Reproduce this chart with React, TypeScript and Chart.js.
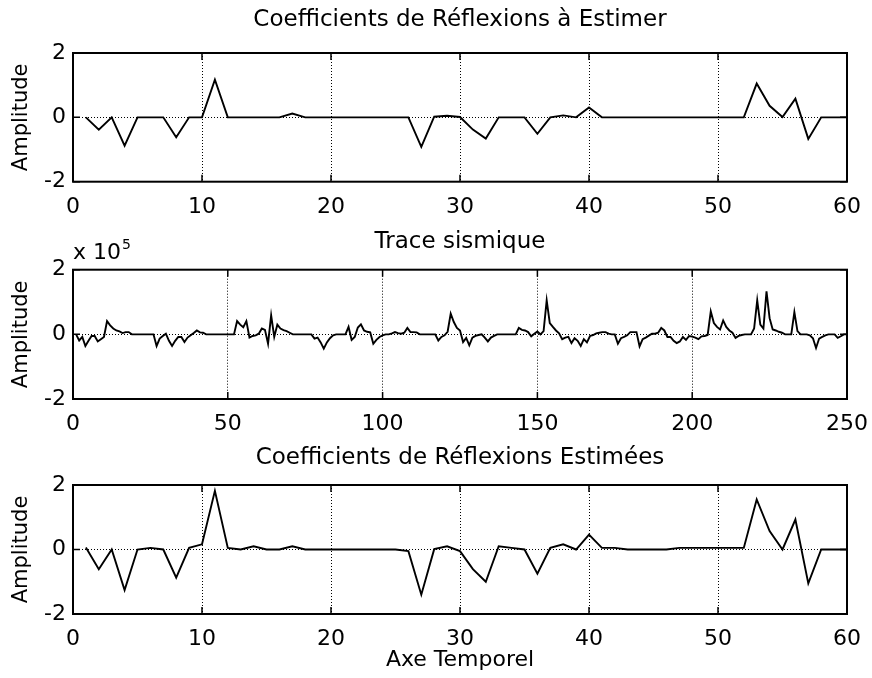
import React, { useEffect, useRef } from "react";
import { Chart, registerables } from "chart.js";

Chart.register(...registerables);

const FONT = "'DejaVu Sans', sans-serif";

// ---------- data ----------
const titleTop = "Coefficients de Réflexions à Estimer";
const titleMid = "Trace sismique";
const titleBottom = "Coefficients de Réflexions Estimées";
const yLabel = "Amplitude";
const xLabelBottom = "Axe Temporel";

const coefIndex = [
  1, 2, 3, 4, 5, 6, 7, 8, 9, 10, 11, 12, 13, 14, 15, 16, 17, 18, 19, 20,
  21, 22, 23, 24, 25, 26, 27, 28, 29, 30, 31, 32, 33, 34, 35, 36, 37, 38, 39, 40,
  41, 42, 43, 44, 45, 46, 47, 48, 49, 50, 51, 52, 53, 54, 55, 56, 57, 58, 59, 60,
];

const coefTrue = [
  0, -0.38, 0, -0.88, 0, 0, 0, -0.62, 0, 0,
  1.17, 0, 0, 0, 0, 0, 0.12, 0, 0, 0,
  0, 0, 0, 0, 0, 0, -0.92, 0.02, 0.05, 0.01,
  -0.38, -0.66, 0, 0, 0, -0.51, 0, 0.06, 0, 0.31,
  0, 0, 0, 0, 0, 0, 0, 0, 0, 0,
  0, 0, 1.05, 0.36, 0.01, 0.58, -0.67, 0, 0, 0,
];

const coefEstimated = [
  0.06, -0.61, 0, -1.26, 0, 0.05, 0, -0.87, 0.05, 0.16,
  1.82, 0.05, 0, 0.1, 0, 0, 0.1, 0, 0, 0,
  0, 0, 0, 0, 0, -0.05, -1.4, 0.01, 0.1, -0.05,
  -0.61, -1.0, 0.1, 0.05, 0, -0.75, 0.05, 0.16, 0, 0.46,
  0.05, 0.05, 0, 0, 0, 0, 0.05, 0.05, 0.05, 0.05,
  0.05, 0.05, 1.55, 0.57, 0, 0.93, -1.05, 0, 0, 0,
];

// seismic trace, in units of 10^5
const traceE5 = [
  0, -0.19, -0.08, -0.36, -0.2, -0.05, -0.05, -0.22, -0.15, -0.08,
  0.41, 0.28, 0.18, 0.12, 0.09, 0.04, 0.07, 0.07, 0, 0,
  0, 0, 0, 0, 0, 0, -0.36, -0.13, -0.05, 0.02,
  -0.2, -0.36, -0.2, -0.08, -0.08, -0.24, -0.1, -0.03, 0.04, 0.12,
  0.06, 0.05, 0, 0, 0, 0, 0, 0, 0, 0,
  0, 0, 0.41, 0.3, 0.22, 0.41, -0.1, -0.05, -0.03, 0.02,
  0.18, 0.14, -0.29, 0.59, -0.08, 0.3, 0.18, 0.13, 0.1, 0.05,
  0, 0, 0, 0, 0, 0, 0, -0.13, -0.1, -0.25,
  -0.44, -0.25, -0.12, -0.03, 0, 0, 0, 0, 0.23, -0.17,
  -0.08, 0.21, 0.31, 0.12, 0.08, 0.06, -0.29, -0.17, -0.08, -0.03,
  0, 0, 0.03, 0.07, 0.04, 0.02, 0.05, 0.2, 0.07, 0.07,
  0.06, 0, 0, 0, 0, 0, 0, -0.19, -0.08, -0.03,
  0.08, 0.64, 0.38, 0.2, 0.12, -0.24, -0.11, -0.34, -0.1, -0.05,
  -0.02, 0, -0.1, -0.22, -0.1, -0.05, 0, 0, 0, 0,
  0, 0, 0, 0.2, 0.14, 0.12, 0.07, -0.06, 0.02, 0.09,
  0, 0.1, 1.05, 0.35, 0.23, 0.12, 0.03, -0.15, -0.1, -0.08,
  -0.27, -0.12, -0.2, -0.36, -0.15, -0.25, -0.05, -0.02, 0.03, 0.05,
  0.07, 0.07, 0.02, 0, 0, -0.29, -0.12, -0.08, -0.03, 0.07,
  0.07, 0.07, -0.37, -0.15, -0.1, -0.04, 0.02, 0.02, 0.05, 0.2,
  0.12, -0.08, -0.08, -0.2, -0.27, -0.22, -0.08, -0.17, -0.05, -0.07,
  -0.1, -0.15, -0.06, -0.05, -0.02, 0.71, 0.35, 0.23, 0.15, 0.43,
  0.23, 0.12, 0.05, -0.11, -0.05, -0.02, 0, 0, 0, 0.18,
  1.05, 0.3, 0.18, 1.33, 0.5, 0.15, 0.12, 0.08, 0.05, 0,
  0, 0, 0.69, 0.1, 0, 0, 0, -0.03, -0.12, -0.42,
  -0.13, -0.08, -0.03, 0, 0, 0, -0.11, -0.06, 0, 0,
];
const traceIndex = traceE5.map((_, i) => i + 1);

const coefXTicks = [0, 10, 20, 30, 40, 50, 60];
const traceXTicks = [0, 50, 100, 150, 200, 250];
const ampTicks = [-2, 0, 2];
const traceExponent = "5";

// ---------- panel ----------
type PanelProps = {
  top: number;
  height: number;
  title: string;
  titlePadTop: number;
  titlePadBottom: number;
  xs: number[];
  ys: number[];
  xTicks: number[];
  xAxisHeight: number;
  xTitle?: string;
  xTitlePadBottom?: number;
  exponent?: string;
};

function Panel(p: PanelProps) {
  const ref = useRef<HTMLCanvasElement | null>(null);
  useEffect(() => {
    if (!ref.current) return;
    const framePlugin = {
      id: "frame",
      afterDraw(chart: any) {
        const { ctx, chartArea: a, scales } = chart;
        ctx.save();
        ctx.strokeStyle = "#000";
        ctx.lineWidth = 2;
        ctx.strokeRect(a.left, a.top, a.right - a.left, a.bottom - a.top);
        ctx.lineWidth = 1.5;
        const tl = 7;
        ctx.beginPath();
        scales.x.ticks.forEach((t: any) => {
          const px = scales.x.getPixelForValue(t.value);
          ctx.moveTo(px, a.bottom);
          ctx.lineTo(px, a.bottom - tl);
          ctx.moveTo(px, a.top);
          ctx.lineTo(px, a.top + tl);
        });
        scales.y.ticks.forEach((t: any) => {
          const py = scales.y.getPixelForValue(t.value);
          ctx.moveTo(a.left, py);
          ctx.lineTo(a.left + tl, py);
          ctx.moveTo(a.right, py);
          ctx.lineTo(a.right - tl, py);
        });
        ctx.stroke();
        if (p.exponent) {
          ctx.fillStyle = "#000";
          ctx.textAlign = "left";
          ctx.textBaseline = "alphabetic";
          ctx.font = `22px ${FONT}`;
          const base = "x 10";
          ctx.fillText(base, a.left, a.top - 11);
          const w = ctx.measureText(base).width;
          ctx.font = `14px ${FONT}`;
          ctx.fillText(p.exponent, a.left + w + 1, a.top - 21);
        }
        ctx.restore();
      },
    };

    const chart = new Chart(ref.current, {
      type: "line",
      data: {
        datasets: [
          {
            data: p.xs.map((x, i) => ({ x, y: p.ys[i] })),
            borderColor: "#000",
            borderWidth: 1.9,
            pointRadius: 0,
            tension: 0,
            fill: false,
          },
        ],
      },
      options: {
        animation: false,
        responsive: false,
        layout: { padding: { left: 0, right: 25, top: 0, bottom: 0 } },
        plugins: {
          legend: { display: false },
          tooltip: { enabled: false },
          title: {
            display: true,
            fullSize: false,
            text: p.title,
            color: "#000",
            font: { family: FONT, size: 23, weight: "normal", lineHeight: 1 },
            padding: { top: p.titlePadTop, bottom: p.titlePadBottom },
          },
        },
        scales: {
          x: {
            type: "linear",
            min: p.xTicks[0],
            max: p.xTicks[p.xTicks.length - 1],
            afterBuildTicks: (s: any) => {
              s.ticks = p.xTicks.map((v) => ({ value: v }));
            },
            afterFit: (s: any) => {
              s.height = p.xAxisHeight;
              s.paddingLeft = 0;
              s.paddingRight = 0;
            },
            ticks: {
              color: "#000",
              font: { family: FONT, size: 22 },
              padding: 12,
              maxRotation: 0,
              autoSkip: false,
            },
            grid: {
              color: (c: any) =>
                c.tick && (c.tick.value === p.xTicks[0] || c.tick.value === p.xTicks[p.xTicks.length - 1])
                  ? "rgba(0,0,0,0)"
                  : "#000",
              lineWidth: 1,
              drawTicks: false,
            },
            border: { display: false, dash: [1, 2] },
            title: p.xTitle
              ? {
                  display: true,
                  text: p.xTitle,
                  color: "#000",
                  font: { family: FONT, size: 22, lineHeight: 1 },
                  padding: { top: 0, bottom: p.xTitlePadBottom ?? 0 },
                }
              : { display: false },
          },
          y: {
            type: "linear",
            min: ampTicks[0],
            max: ampTicks[ampTicks.length - 1],
            afterBuildTicks: (s: any) => {
              s.ticks = ampTicks.map((v) => ({ value: v }));
            },
            afterFit: (s: any) => {
              s.width = 73;
              s.paddingTop = 0;
              s.paddingBottom = 0;
            },
            ticks: {
              color: "#000",
              font: { family: FONT, size: 22 },
              padding: 7,
            },
            grid: {
              color: (c: any) => (c.tick && c.tick.value === 0 ? "#000" : "rgba(0,0,0,0)"),
              lineWidth: 1,
              drawTicks: false,
            },
            border: { display: false, dash: [1, 2] },
            title: {
              display: true,
              text: yLabel,
              color: "#000",
              font: { family: FONT, size: 21, lineHeight: 1 },
              padding: { top: 11.5, bottom: 0 },
            },
          },
        },
      },
      plugins: [framePlugin],
    } as any);
    return () => chart.destroy();
  }, []);
  return (
    <canvas
      ref={ref}
      width={872}
      height={p.height}
      style={{ position: "absolute", left: 0, top: p.top, width: 872, height: p.height }}
    />
  );
}

export default function App() {
  return (
    <div style={{ position: "absolute", left: 0, top: 0, width: 872, height: 678, background: "#fff" }}>
      <Panel
        top={0}
        height={225}
        title={titleTop}
        titlePadTop={9}
        titlePadBottom={21}
        xs={coefIndex}
        ys={coefTrue}
        xTicks={coefXTicks}
        xAxisHeight={43.3}
      />
      <Panel
        top={225}
        height={215}
        title={titleMid}
        titlePadTop={5.5}
        titlePadBottom={16.2}
        xs={traceIndex}
        ys={traceE5}
        xTicks={traceXTicks}
        xAxisHeight={41}
        exponent={traceExponent}
      />
      <Panel
        top={440}
        height={238}
        title={titleBottom}
        titlePadTop={6.5}
        titlePadBottom={15.5}
        xs={coefIndex}
        ys={coefEstimated}
        xTicks={coefXTicks}
        xAxisHeight={64}
        xTitle={xLabelBottom}
        xTitlePadBottom={7}
      />
    </div>
  );
}
